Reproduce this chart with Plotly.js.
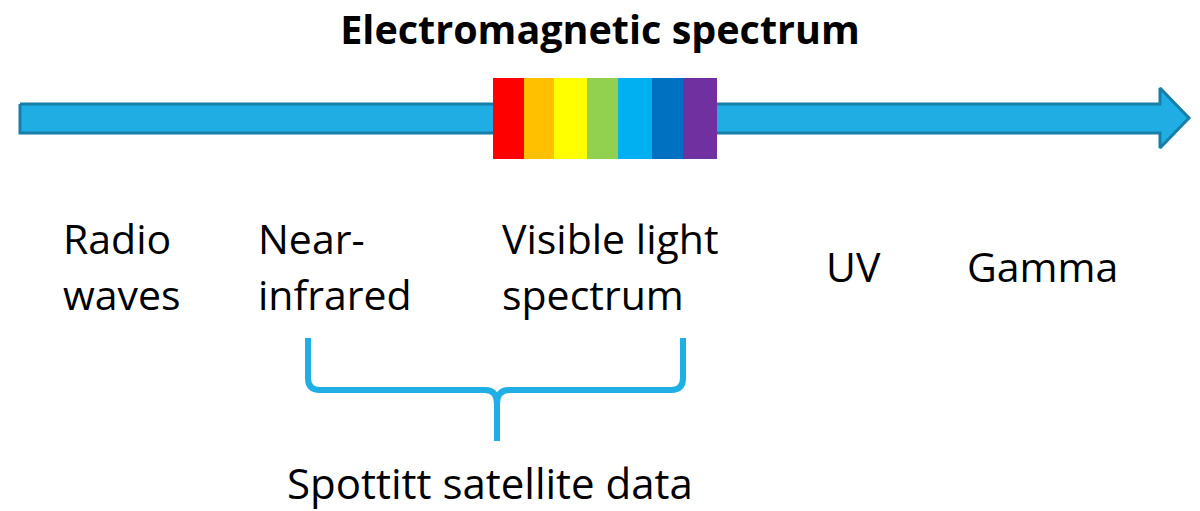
<!DOCTYPE html>
<html>
<head>
<meta charset="utf-8">
<script src="https://cdn.plot.ly/plotly-3.0.1.min.js"></script>
<style>html,body{margin:0;padding:0;background:#fff;}#chart{width:1200px;height:511px;}</style>
</head>
<body>
<div id="chart"></div>
<script>
// Arrow outline (diagram coordinates)
const arrowX = [20, 1160, 1160, 1189, 1160, 1160, 20, 20];
const arrowY = [104, 104, 88, 118, 148, 133, 133, 104];

// Visible spectrum bands
const bandColors = ["#FF0000", "#FFC000", "#FFFF00", "#92D050", "#00B0F0", "#0070C0", "#7030A0"];
const bandEdges = [493, 524, 554, 587, 618, 652, 683, 717];
const bandTop = 78, bandBottom = 159;

// Labels (each line separately)
const labelTexts = ["Radio", "waves", "Near-", "infrared", "Visible light", "spectrum", "UV", "Gamma", "Spottitt satellite data"];
const labelX = [61, 61, 256, 256, 500, 500, 824, 965, 285];
const labelY = [238, 294, 238, 294, 238, 294, 266, 266, 482];
const labelSize = [41, 41, 41, 41, 41, 41, 41, 41, 42];

// Bracket
const bracketLeft = 308, bracketRight = 683, bracketMid = 497;
const bracketTop = 338, bracketBar = 390, bracketTip = 441;

const traces = [{
  x: arrowX, y: arrowY, type: "scatter", mode: "lines", fill: "toself",
  fillcolor: "#1FADE3", line: {color: "#167FA8", width: 3}, hoverinfo: "skip", showlegend: false
}];

const shapes = [];
for (let i = 0; i < bandColors.length; i++) {
  shapes.push({type: "rect", xref: "x", yref: "y",
    x0: bandEdges[i], x1: bandEdges[i + 1], y0: bandTop, y1: bandBottom,
    fillcolor: bandColors[i], line: {width: 0}, layer: "above"});
}
const r = 12;
const L = bracketLeft, R = bracketRight, M = bracketMid, T = bracketTop, B = bracketBar, P = bracketTip;
shapes.push({type: "path", xref: "x", yref: "y", layer: "above",
  path: `M${L},${T} L${L},${B - r} Q${L},${B} ${L + r},${B} L${M - 12},${B} Q${M},${B} ${M},${B + 14} L${M},${P}`,
  line: {color: "#1FAFE4", width: 6}});
shapes.push({type: "path", xref: "x", yref: "y", layer: "above",
  path: `M${R},${T} L${R},${B - r} Q${R},${B} ${R - r},${B} L${M + 12},${B} Q${M},${B} ${M},${B + 14}`,
  line: {color: "#1FAFE4", width: 6}});

const annotations = labelTexts.map((t, i) => ({
  text: t, x: labelX[i], y: labelY[i], xref: "x", yref: "y",
  xanchor: "left", yanchor: "middle", showarrow: false,
  font: {family: "'Open Sans', sans-serif", size: labelSize[i], color: "#000"}
}));

const layout = {
  width: 1200, height: 511,
  margin: {l: 0, r: 0, t: 0, b: 0},
  paper_bgcolor: "#fff", plot_bgcolor: "#fff",
  title: {text: "<b>Electromagnetic spectrum</b>", x: 0.5, xanchor: "center", y: 0.94, yanchor: "middle", yref: "paper",
    font: {family: "'Open Sans', sans-serif", size: 39.5, color: "#000"}},
  xaxis: {range: [0, 1200], visible: false, fixedrange: true},
  yaxis: {range: [511, 0], visible: false, fixedrange: true},
  shapes: shapes, annotations: annotations, showlegend: false
};

Plotly.newPlot("chart", traces, layout, {displayModeBar: false, staticPlot: true});
</script>
</body>
</html>
